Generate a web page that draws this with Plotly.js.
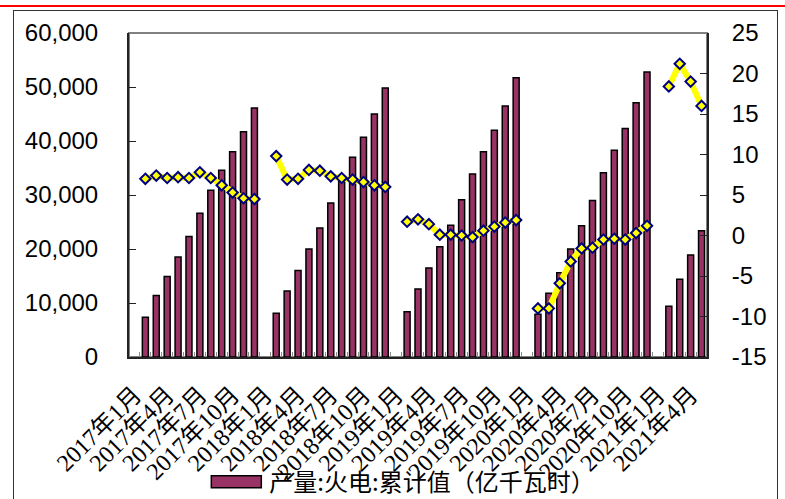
<!DOCTYPE html>
<html>
<head>
<meta charset="utf-8">
<script src="https://cdn.plot.ly/plotly-3.0.1.min.js"></script>
<style>
  html, body { margin: 0; padding: 0; background: #ffffff; }
  #wrap { position: relative; width: 785px; height: 499px; overflow: hidden; }
  #topRule { position: absolute; left: 0; top: 5px; width: 785px; height: 2px; background: #ff0000; }
  #frame { position: absolute; left: 13px; top: 10px; width: 765px; height: 520px; border: 1px solid #333333; box-sizing: border-box; }
  #chart { position: absolute; left: 0; top: 0; width: 785px; height: 499px; }
</style>
</head>
<body>
<div id="wrap">
  <div id="topRule"></div>
  <div id="frame"></div>
  <div id="chart"></div>
</div>
<script>
// Month categories, one slot per month
const months2017 = ['2017年1月','2017年2月','2017年3月','2017年4月','2017年5月','2017年6月','2017年7月','2017年8月','2017年9月','2017年10月','2017年11月','2017年12月'];
const months2018 = ['2018年1月','2018年2月','2018年3月','2018年4月','2018年5月','2018年6月','2018年7月','2018年8月','2018年9月','2018年10月','2018年11月','2018年12月'];
const months2019 = ['2019年1月','2019年2月','2019年3月','2019年4月','2019年5月','2019年6月','2019年7月','2019年8月','2019年9月','2019年10月','2019年11月','2019年12月'];
const months2020 = ['2020年1月','2020年2月','2020年3月','2020年4月','2020年5月','2020年6月','2020年7月','2020年8月','2020年9月','2020年10月','2020年11月','2020年12月'];
const months2021 = ['2021年1月','2021年2月','2021年3月','2021年4月','2021年5月'];

// Labelled months on the category axis
const tickLabels = ['2017年1月','2017年4月','2017年7月','2017年10月','2018年1月','2018年4月','2018年7月','2018年10月',
  '2019年1月','2019年4月','2019年7月','2019年10月','2020年1月','2020年4月','2020年7月','2020年10月','2021年1月','2021年4月'];

// Thermal power output, year-to-date cumulative (亿千瓦时); January is reported with February
const output2017 = [null, 7350, 11400, 14900, 18500, 22300, 26600, 30900, 34600, 38000, 41700, 46100];
const output2018 = [null, 8100, 12200, 16000, 20000, 23900, 28500, 32900, 37000, 40700, 45000, 49800];
const output2019 = [null, 8400, 12600, 16500, 20400, 24400, 29100, 33900, 38000, 42000, 46500, 51700];
const output2020 = [null, 7900, 11800, 15600, 20000, 24300, 29000, 34100, 38300, 42300, 47100, 52800];
const output2021 = [null, 9400, 14400, 18900, 23400];

// Year-on-year growth of the cumulative value (%), right axis
const growth2017 = [null, 7.0, 7.4, 7.1, 7.2, 7.1, 7.8, 7.1, 6.2, 5.3, 4.6, 4.5];
const growth2018 = [null, 9.8, 6.9, 7.0, 8.1, 8.0, 7.3, 7.1, 6.9, 6.6, 6.2, 6.0];
const growth2019 = [null, 1.7, 2.0, 1.4, 0.1, 0.1, 0.0, -0.2, 0.6, 1.1, 1.6, 1.9];
const growth2020 = [null, -9.0, -9.0, -5.9, -3.2, -1.6, -1.5, -0.5, -0.4, -0.5, 0.3, 1.2];
const growth2021 = [null, 18.4, 21.2, 19.0, 16.0];

// Axis tick values and texts
const leftTicks = [0, 10000, 20000, 30000, 40000, 50000, 60000];
const rightTicks = [-15, -10, -5, 0, 5, 10, 15, 20, 25];
const rightTickText = ['-15', '-10', '-5', '0', '5', '10', '15', '20', '25'];

const seriesName = '产量:火电:累计值（亿千瓦时）';

const months = [].concat(months2017, months2018, months2019, months2020, months2021);
const output = [].concat(output2017, output2018, output2019, output2020, output2021);
const growth = [].concat(growth2017, growth2018, growth2019, growth2020, growth2021);

const catRange = [-0.5, months.length - 0.5];
const numFont = { family: '"Liberation Sans", Arial, sans-serif', size: 24, color: '#000000' };

const bars = {
  type: 'bar',
  name: seriesName,
  x: months,
  y: output,
  xaxis: 'x',
  yaxis: 'y',
  marker: { color: '#993366', line: { color: '#000000', width: 1.5 } },
  hoverinfo: 'x+y'
};

const growthLine = {
  type: 'scatter',
  mode: 'lines+markers',
  name: '同比',
  x: months,
  y: growth,
  xaxis: 'x2',
  yaxis: 'y2',
  connectgaps: false,
  showlegend: false,
  line: { color: '#ffff00', width: 6 },
  marker: { symbol: 'diamond', size: 8, color: '#ffff00', line: { color: '#000080', width: 2 } }
};

const layout = {
  width: 785,
  height: 499,
  margin: { l: 129, r: 78, t: 33, b: 142, pad: 0, autoexpand: false },
  paper_bgcolor: 'rgba(0,0,0,0)',
  plot_bgcolor: 'rgba(0,0,0,0)',
  bargap: 0.45,
  showlegend: true,
  legend: {
    orientation: 'h',
    x: 0.472, xanchor: 'center',
    y: -0.386, yanchor: 'middle',
    bgcolor: 'rgba(0,0,0,0)',
    itemwidth: 56,
    font: { family: '"Noto Sans CJK SC", sans-serif', size: 24, color: '#000000' }
  },
  xaxis: {
    type: 'category',
    categoryorder: 'array',
    categoryarray: months,
    range: catRange,
    automargin: false,
    tickmode: 'linear', tick0: 0, dtick: 1,
    tickson: 'boundaries',
    ticks: 'inside', ticklen: 5, tickwidth: 1, tickcolor: '#8c8c8c',
    showticklabels: false,
    showline: true, linecolor: '#222222', linewidth: 2,
    showgrid: false, zeroline: false, fixedrange: true
  },
  xaxis2: {
    type: 'category',
    overlaying: 'x',
    anchor: 'y2',
    side: 'bottom',
    categoryorder: 'array',
    categoryarray: months,
    range: catRange,
    automargin: false,
    tickmode: 'array',
    tickvals: tickLabels,
    ticktext: tickLabels,
    tickangle: -45,
    ticks: '',
    ticklabelstandoff: 18,
    tickfont: { family: '"Liberation Serif", "Times New Roman", "Noto Sans CJK SC", serif', size: 24, color: '#000000' },
    showline: false, showgrid: false, zeroline: false, fixedrange: true
  },
  yaxis: {
    range: [0, 60000],
    automargin: false,
    tickmode: 'array',
    tickvals: leftTicks,
    tickformat: ',',
    ticks: 'inside', ticklen: 7, tickwidth: 1, tickcolor: '#222222',
    ticklabelstandoff: 24,
    tickfont: numFont,
    showline: true, linecolor: '#222222', linewidth: 2,
    showgrid: false, zeroline: false, fixedrange: true
  },
  yaxis2: {
    overlaying: 'y',
    anchor: 'x',
    side: 'right',
    range: [-15, 25],
    automargin: false,
    tickmode: 'array',
    tickvals: rightTicks,
    ticktext: rightTickText,
    ticks: 'inside', ticklen: 7, tickwidth: 1, tickcolor: '#222222',
    ticklabelstandoff: 18,
    tickfont: numFont,
    showline: true, linecolor: '#222222', linewidth: 2,
    showgrid: false, zeroline: false, fixedrange: true
  },
  shapes: [
    // plot-area outline; the top edge stays grey
    { type: 'rect', xref: 'paper', yref: 'paper', x0: 0, x1: 1, y0: 0, y1: 1,
      line: { color: '#808080', width: 2 }, fillcolor: 'rgba(0,0,0,0)', layer: 'below' }
  ]
};

Plotly.newPlot('chart', [bars, growthLine], layout, { displayModeBar: false, staticPlot: true }).then(function (gd) {
  // widen the legend swatch into a long bar
  const sw = gd.querySelectorAll('.legend .legendpoints path');
  sw.forEach(function (p) {
    p.setAttribute('d', 'M25,6H-25V-6H25Z');
  });
});
</script>
</body>
</html>
